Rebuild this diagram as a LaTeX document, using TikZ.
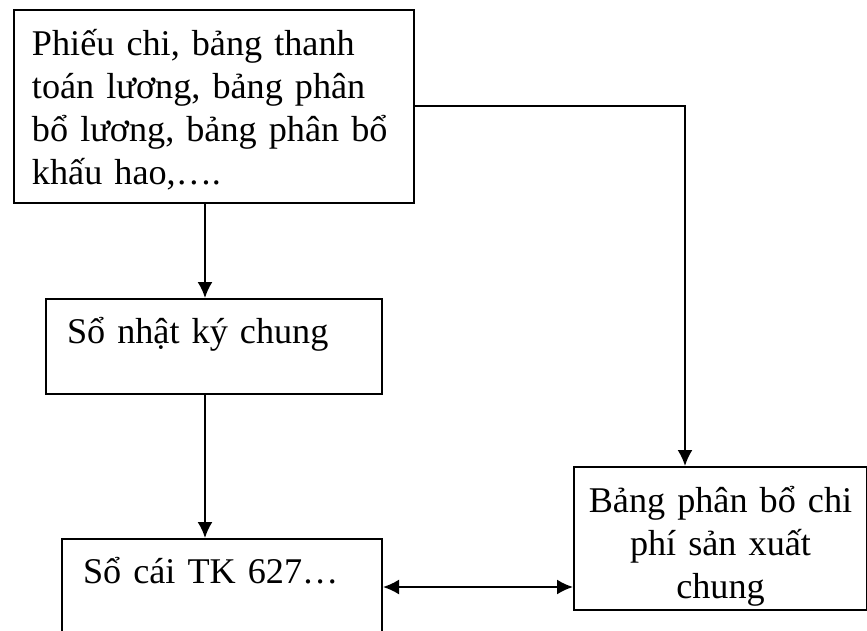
\documentclass[tikz,border=0pt]{standalone}
\usepackage{fontspec}
\setmainfont{Liberation Serif}
\usetikzlibrary{arrows.meta}

\begin{document}
\begin{tikzpicture}[x=0.5pt,y=-0.5pt,
  boxnode/.style={draw,line width=1pt,rectangle,anchor=north west,inner ysep=0pt,
    font=\fontsize{18.1}{21.5}\selectfont},
  flow/.style={line width=1pt,>={Latex[length=8pt,width=7.5pt]}}]
\clip (0,0) rectangle (867,631);

% chung tu goc
\node[boxnode,inner xsep=9pt,text width=182pt,align=left,
  text height=23pt,text depth=73.5pt] (chungtu) at (13,9)
  {Phiếu chi, bảng thanh\\toán lương, bảng phân\\bổ lương, bảng phân bổ\\khấu hao,….};
% so sach
\node[boxnode,inner xsep=10.5pt,text width=147pt,align=left,
  text height=22pt,text depth=25.5pt] (nhatky) at (45,298) {Sổ nhật ký chung};
\node[boxnode,inner xsep=10.5pt,text width=139pt,align=left,
  text height=22pt,text depth=26pt] (socai) at (61,538) {Sổ cái TK 627…};
\node[boxnode,inner xsep=5pt,text width=136.5pt,align=center,
  text height=22.5pt,text depth=49pt] (phanbo) at (573,466)
  {Bảng phân bổ chi\\phí sản xuất\\chung};

\coordinate (stem) at (205,0);
\coordinate (side) at (685,0);

\draw[flow,->] (chungtu.south -| stem) -- (nhatky.north -| stem);
\draw[flow,->] (nhatky.south -| stem) -- (socai.north -| stem);
\draw[flow,->] (chungtu.east) -| (phanbo.north -| side);
\draw[flow,<->] (socai.east) -- (socai.east -| phanbo.west);
\end{tikzpicture}
\end{document}
